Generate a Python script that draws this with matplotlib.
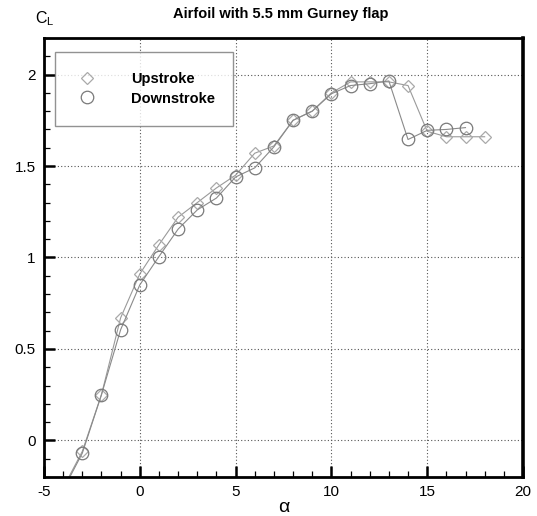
import matplotlib
matplotlib.use("Agg")
import matplotlib.pyplot as plt
from matplotlib.ticker import MultipleLocator

plt.rcParams['font.family'] = ['Liberation Sans', 'DejaVu Sans']
plt.rcParams['axes.unicode_minus'] = False

# lift coefficient vs angle of attack (deg)
alpha_up = [-4, -3, -2, -1, 0, 1, 2, 3, 4, 5, 6, 7, 8, 9, 10, 11, 12, 13, 14, 15, 16, 17, 18]
cl_up = [-0.26, -0.06, 0.25, 0.67, 0.91, 1.07, 1.22, 1.30, 1.38, 1.45, 1.57, 1.61, 1.75,
         1.80, 1.90, 1.96, 1.96, 1.96, 1.94, 1.69, 1.66, 1.66, 1.66]

alpha_down = [-4, -3, -2, -1, 0, 1, 2, 3, 4, 5, 6, 7, 8, 9, 10, 11, 12, 13, 14, 15, 16, 17]
cl_down = [-0.27, -0.07, 0.25, 0.605, 0.85, 1.005, 1.155, 1.26, 1.325, 1.44, 1.49, 1.605,
           1.75, 1.80, 1.895, 1.94, 1.95, 1.965, 1.645, 1.695, 1.70, 1.71]

fig = plt.figure(figsize=(5.37, 5.16), dpi=100)
ax = fig.add_axes([0.0819, 0.0756, 0.892, 0.8508])

ax.plot(alpha_up, cl_up, color='#9a9a9a', lw=0.8, marker='D', ms=6,
        mfc='none', mec='#aaaaaa', mew=0.9, label='Upstroke')
ax.plot(alpha_down, cl_down, color='#8a8a8a', lw=0.8, marker='o', ms=9,
        mfc='none', mec='#7a7a7a', mew=0.9, label='Downstroke')

ax.set_xlim(-5, 20)
ax.set_ylim(-0.2, 2.2)
ax.xaxis.set_major_locator(MultipleLocator(5))
ax.xaxis.set_minor_locator(MultipleLocator(1))
ax.yaxis.set_minor_locator(MultipleLocator(0.1))
ax.set_yticks([0, 0.5, 1, 1.5, 2])
ax.set_yticklabels(['0', '0.5', '1', '1.5', '2'])

ax.grid(True, which='major', color='#555555', ls=(0, (1, 2)), lw=0.8)
ax.tick_params(which='major', direction='in', length=8, width=1.8, labelsize=11, pad=6)
ax.tick_params(which='minor', direction='in', length=4.5, width=0.9)
for s in ax.spines.values():
    s.set_linewidth(2.0)
ax.spines['right'].set_linewidth(2.6)

# axis labels placed like the original (x label below ticks, C_L above the frame)
fig.text(0.528, 0.008, 'α', ha='center', va='baseline', fontsize=14)
fig.text(0.522, 0.972, 'Airfoil with 5.5 mm Gurney flap', ha='center', va='center',
         fontsize=10.5, fontweight='bold')
fig.text(0.066, 0.964, r'$\mathregular{C_L}$', ha='left', va='center', fontsize=11.5)

leg = ax.legend(loc='upper left', bbox_to_anchor=(0.023, 0.797, 0.372, 0.171),
                mode='expand', borderaxespad=0, fancybox=False, borderpad=1.4,
                handlelength=1.6, handletextpad=2.2, labelspacing=0.35,
                prop={'weight': 'bold', 'size': 10.5})
leg.get_frame().set_edgecolor('#777777')
leg.get_frame().set_linewidth(1.0)
for h in leg.get_lines():
    h.set_linestyle('none')

fig.savefig('out.png', dpi=100)
